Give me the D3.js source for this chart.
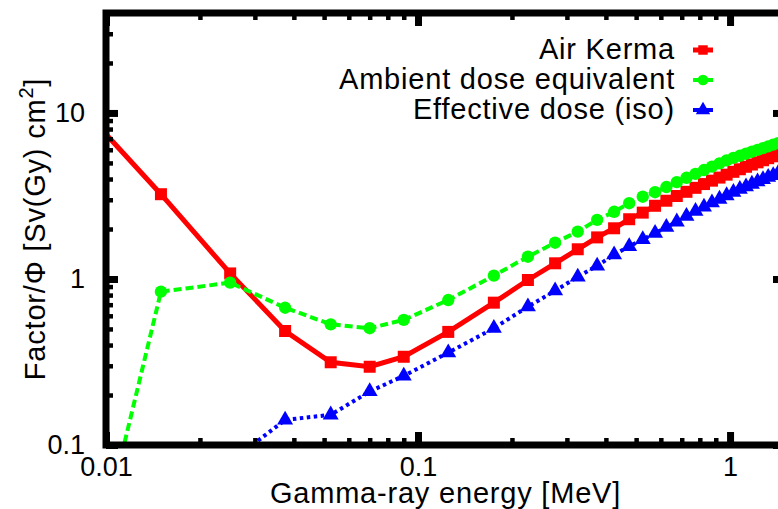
<!DOCTYPE html>
<html>
<head>
<meta charset="utf-8">
<script src="https://cdn.jsdelivr.net/npm/d3@7"></script>
<style>
  html, body { margin: 0; padding: 0; background: #fff; }
  svg { display: block; }
  text { font-family: "Liberation Sans", Arial, Helvetica, sans-serif; fill: #000; }
  .label { font-size: 29px; letter-spacing: 0.8px; }
</style>
</head>
<body>
<svg id="chart" width="778" height="509"></svg>
<script>
// Photon energy grid (MeV): bin centres used for every series
const energy = [0.005, 0.015, 0.025, 0.0375, 0.0525, 0.07, 0.09,
  0.125, 0.175, 0.225, 0.275, 0.325, 0.375, 0.425, 0.475, 0.525,
  0.575, 0.625, 0.675, 0.725, 0.775, 0.825, 0.875, 0.925, 0.975,
  1.025, 1.075, 1.125, 1.175, 1.225, 1.275, 1.325, 1.375, 1.425, 1.475];

// Conversion factors per fluence
const airKerma = [30.8, 3.24, 1.08, 0.486, 0.315, 0.296, 0.34,
  0.48, 0.72, 0.986, 1.243, 1.51, 1.78, 2.02, 2.29, 2.51,
  2.76, 2.96, 3.16, 3.35, 3.54, 3.73, 3.91, 4.08, 4.25,
  4.42, 4.58, 4.74, 4.89, 5.04, 5.19, 5.34, 5.48, 5.62, 5.76];

const ambientDose = [0.00016, 0.839, 0.95, 0.671, 0.533, 0.505, 0.567,
  0.747, 1.047, 1.362, 1.654, 1.93, 2.27, 2.54, 2.86, 3.13,
  3.33, 3.58, 3.83, 4.07, 4.30, 4.53, 4.75, 4.97, 5.18,
  5.36, 5.52, 5.68, 5.84, 5.99, 6.14, 6.29, 6.44, 6.58, 6.72];

const effectiveDose = [null, null, 0.079, 0.1416, 0.152, 0.21, 0.261,
  0.36, 0.505, 0.681, 0.85, 1.03, 1.2, 1.40, 1.57, 1.73,
  1.89, 2.05, 2.21, 2.39, 2.56, 2.72, 2.88, 3.03, 3.18,
  3.33, 3.47, 3.60, 3.73, 3.86, 3.98, 4.10, 4.21, 4.32, 4.43];

const seriesNames = ["Air Kerma", "Ambient dose equivalent", "Effective dose (iso)"];

const xMajor = [0.01, 0.1, 1];
const xMajorLabels = ["0.01", "0.1", "1"];
const yMajor = [0.1, 1, 10];
const yMajorLabels = ["0.1", "1", "10"];

const svg = d3.select("#chart");
const pLeft = 106, pRight = 785, pTop = 13, pBottom = 445;

const x = d3.scaleLog().domain([0.01, 1.5]).range([pLeft, pRight]);
const y = d3.scaleLog().domain([0.1, 40]).range([pBottom, pTop]);

// minor ticks: 2..9 in each decade, inside the domain
const xMinor = [];
[0.01, 0.1, 1].forEach(d => { for (let k = 2; k <= 9; k++) { const v = d * k; if (v < 1.5) xMinor.push(v); } });
const yMinor = [];
[0.1, 1, 10].forEach(d => { for (let k = 2; k <= 9; k++) { const v = d * k; if (v < 40) yMinor.push(v); } });

const styles = [
  { color: "#ff0000", width: 5, dash: null, shape: d3.symbolSquare, size: 144 },
  { color: "#00ff00", width: 4, dash: "8,4", shape: d3.symbolCircle, size: 120 },
  { color: "#0000ff", width: 4, dash: "3.5,3.5", shape: d3.symbolTriangle, size: 110 }
];
const values = [airKerma, ambientDose, effectiveDose];

svg.append("defs").append("clipPath").attr("id", "plotClip")
  .append("rect").attr("x", pLeft).attr("y", pTop)
  .attr("width", pRight - pLeft).attr("height", pBottom - pTop);

const plot = svg.append("g").attr("clip-path", "url(#plotClip)");

const line = d3.line()
  .defined(d => d.v != null)
  .x(d => x(d.e)).y(d => y(d.v));

values.forEach((vals, i) => {
  const st = styles[i];
  const pts = energy.map((e, j) => ({ e, v: vals[j] }));
  plot.append("path").datum(pts)
    .attr("fill", "none")
    .attr("stroke", st.color)
    .attr("stroke-width", st.width)
    .attr("stroke-dasharray", st.dash)
    .attr("d", line);
  const inRange = pts.filter(d => d.v != null && d.e >= 0.01 && d.e <= 1.5 && d.v >= 0.1 && d.v <= 40);
  plot.selectAll(null).data(inRange).enter().append("path")
    .attr("transform", d => `translate(${x(d.e)},${y(d.v)})`)
    .attr("d", d3.symbol().type(st.shape).size(st.size))
    .attr("fill", st.color);
});

// axes: ticks point inward on all four sides
function styleAxis(g, w) {
  g.select(".domain").remove();
  g.selectAll(".tick line").attr("stroke", "#000").attr("stroke-width", w);
  g.selectAll(".tick text").style("font-size", "27px").style("font-family", "Liberation Sans, Arial, sans-serif");
}

svg.append("g").attr("transform", `translate(0,${pBottom})`)
  .call(d3.axisBottom(x).tickValues(xMinor).tickSize(-7).tickFormat(""))
  .call(g => styleAxis(g, 4.5));
svg.append("g").attr("transform", `translate(0,${pBottom})`)
  .call(d3.axisBottom(x).tickValues(xMajor).tickSize(-13).tickPadding(12)
    .tickFormat((d, i) => xMajorLabels[i]))
  .call(g => styleAxis(g, 7));
svg.append("g").attr("transform", `translate(0,${pTop})`)
  .call(d3.axisTop(x).tickValues(xMinor).tickSize(-7).tickFormat(""))
  .call(g => styleAxis(g, 4.5));
svg.append("g").attr("transform", `translate(0,${pTop})`)
  .call(d3.axisTop(x).tickValues(xMajor).tickSize(-13).tickFormat(""))
  .call(g => styleAxis(g, 7));

svg.append("g").attr("transform", `translate(${pLeft},0)`)
  .call(d3.axisLeft(y).tickValues(yMinor).tickSize(-7).tickFormat(""))
  .call(g => styleAxis(g, 4.5));
svg.append("g").attr("transform", `translate(${pLeft},0)`)
  .call(d3.axisLeft(y).tickValues(yMajor).tickSize(-12).tickPadding(21)
    .tickFormat((d, i) => yMajorLabels[i]))
  .call(g => styleAxis(g, 7));
svg.append("g").attr("transform", `translate(${pRight},0)`)
  .call(d3.axisRight(y).tickValues(yMinor).tickSize(-7).tickFormat(""))
  .call(g => styleAxis(g, 4.5));
svg.append("g").attr("transform", `translate(${pRight},0)`)
  .call(d3.axisRight(y).tickValues(yMajor).tickSize(-12).tickFormat(""))
  .call(g => styleAxis(g, 7));

// plot border
svg.append("rect")
  .attr("x", pLeft).attr("y", pTop)
  .attr("width", pRight - pLeft).attr("height", pBottom - pTop)
  .attr("fill", "none").attr("stroke", "#000").attr("stroke-width", 7);

// axis titles
svg.append("text").attr("class", "label")
  .attr("x", (pLeft + pRight) / 2).attr("y", 503)
  .attr("text-anchor", "middle")
  .text("Gamma-ray energy [MeV]");

const yTitle = svg.append("text").attr("class", "label")
  .attr("transform", `translate(45,${(pTop + pBottom) / 2}) rotate(-90)`)
  .attr("text-anchor", "middle");
yTitle.append("tspan").text("Factor/Φ [Sv(Gy) cm");
yTitle.append("tspan").attr("dy", -12).style("font-size", "20px").text("2");
yTitle.append("tspan").attr("dy", 12).text("]");

// legend
const legend = svg.append("g");
seriesNames.forEach((name, i) => {
  const st = styles[i];
  const cy = 50 + i * 30;
  legend.append("text").attr("class", "label").attr("x", 675).attr("y", cy + 9)
    .attr("text-anchor", "end").text(name);
  legend.append("line").attr("x1", 693).attr("x2", 713).attr("y1", cy).attr("y2", cy)
    .attr("stroke", st.color).attr("stroke-width", st.width);
  legend.append("path").attr("transform", `translate(703,${cy})`)
    .attr("d", d3.symbol().type(st.shape).size(90)).attr("fill", st.color);
});
</script>
</body>
</html>
